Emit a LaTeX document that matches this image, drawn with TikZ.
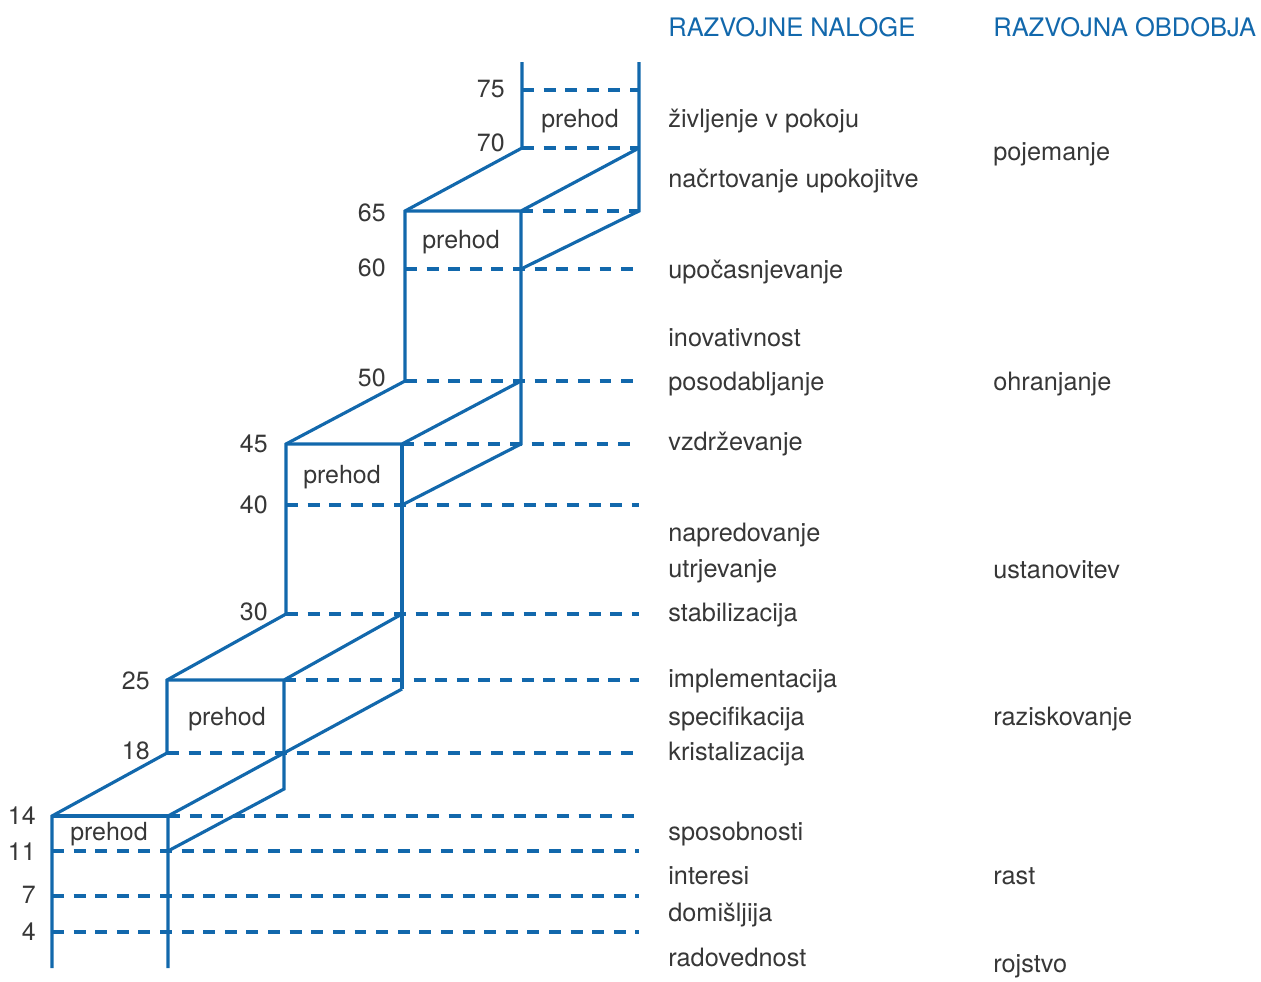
\documentclass[tikz,border=0pt]{standalone}
\usepackage{fontspec}
\setmainfont{TeX Gyre Heros}
\usepackage{tikz}
\usetikzlibrary{positioning}
\definecolor{stairblue}{RGB}{18,104,172}
\definecolor{labgray}{RGB}{55,55,55}
\tikzset{
  stair/.style={stairblue, line width=1.8pt, line join=miter},
  guide/.style={stairblue, line width=1.8pt, dash pattern=on 6.8pt off 5.5pt},
  agelab/.style={anchor=east, text=labgray, inner sep=0pt, font=\fontsize{14.2}{16}\selectfont},
  tasklab/.style={anchor=west, text=labgray, inner sep=0pt, font=\fontsize{14.4}{16}\selectfont},
  headlab/.style={anchor=west, text=stairblue, inner sep=0pt, font=\fontsize{14.5}{16}\selectfont},
  passlab/.style={text=labgray, inner sep=0pt, font=\fontsize{14.2}{16}\selectfont},
}
\begin{document}
\begin{tikzpicture}[x=0.02cm, y=0.02cm]
  \useasboundingbox (0,0) rectangle (1261,-981);
  % dashed age lines, each runs to the right edge of the stairs
  \foreach \y/\x in {90/522, 148/522, 211/521, 269/405, 381/405, 444/402,
                     505/286, 614/286, 680/284, 753/167, 816/168,
                     851/52, 896/52, 932/52}
    \draw[guide] (\x,-\y) -- (639,-\y);
  % left outline of the stairs
  \draw[stair] (52,-968) -- (52,-816) -- (167,-753) -- (167,-680)
    -- (286,-614) -- (286,-444) -- (405,-381) -- (405,-211)
    -- (522,-148) -- (522,-62);
  % step 1
  \draw[stair] (52,-816) -- (168,-816);
  \draw[stair] (168,-968) -- (168,-816) -- (284,-753) -- (402,-689);
  \draw[stair] (168,-851) -- (284,-789) -- (284,-680);
  % step 2
  \draw[stair] (167,-680) -- (284,-680) -- (402,-614);
  \draw[stair] (402,-689) -- (402,-444);
  % step 3
  \draw[stair] (286,-444) -- (402,-444) -- (521,-381);
  \draw[stair] (402,-505) -- (521,-444) -- (521,-211);
  % step 4
  \draw[stair] (405,-211) -- (521,-211) -- (639,-148);
  \draw[stair] (521,-269) -- (639,-211) -- (639,-62);
  % transitions
  \node[passlab] (pass1) at (109,-834) {prehod};
  \node[passlab] (pass2) at (227,-719) {prehod};
  \node[passlab] (pass3) at (342,-477) {prehod};
  \node[passlab] (pass4) at (461,-242) {prehod};
  \node[passlab] (pass5) at (580,-121) {prehod};
  % ages
  \foreach \y/\x/\a in {89/505/75, 143/505/70, 213/386/65, 268/386/60,
                        378/386/50, 444/268/45, 505/268/40, 612/268/30,
                        681/150/25, 751/150/18, 816/36/14, 852/36/11,
                        895/36/7, 932/36/4}
    \node[agelab] (age\a) at (\x,-\y) {\a};
  % headings
  \node[headlab] (tasks) at (668,-27) {RAZVOJNE NALOGE};
  \node[headlab] (periods) at (993,-27) {RAZVOJNA OBDOBJA};
  % developmental tasks
  \foreach \y/\t [count=\i] in {121/življenje v pokoju, 181/načrtovanje upokojitve,
      272/upočasnjevanje, 338/inovativnost, 384/posodabljanje, 444/vzdrževanje,
      535/napredovanje, 571/utrjevanje, 615/stabilizacija, 681/implementacija,
      719/specifikacija, 754/kristalizacija, 834/sposobnosti, 876/interesi,
      915/domišljija, 957/radovednost}
    \node[tasklab] (task\i) at (668,-\y) {\t};
  % developmental periods
  \foreach \y/\t [count=\i] in {154/pojemanje, 384/ohranjanje, 570/ustanovitev,
      719/raziskovanje, 876/rast, 966/rojstvo}
    \node[tasklab] (period\i) at (993,-\y) {\t};
\end{tikzpicture}
\end{document}
